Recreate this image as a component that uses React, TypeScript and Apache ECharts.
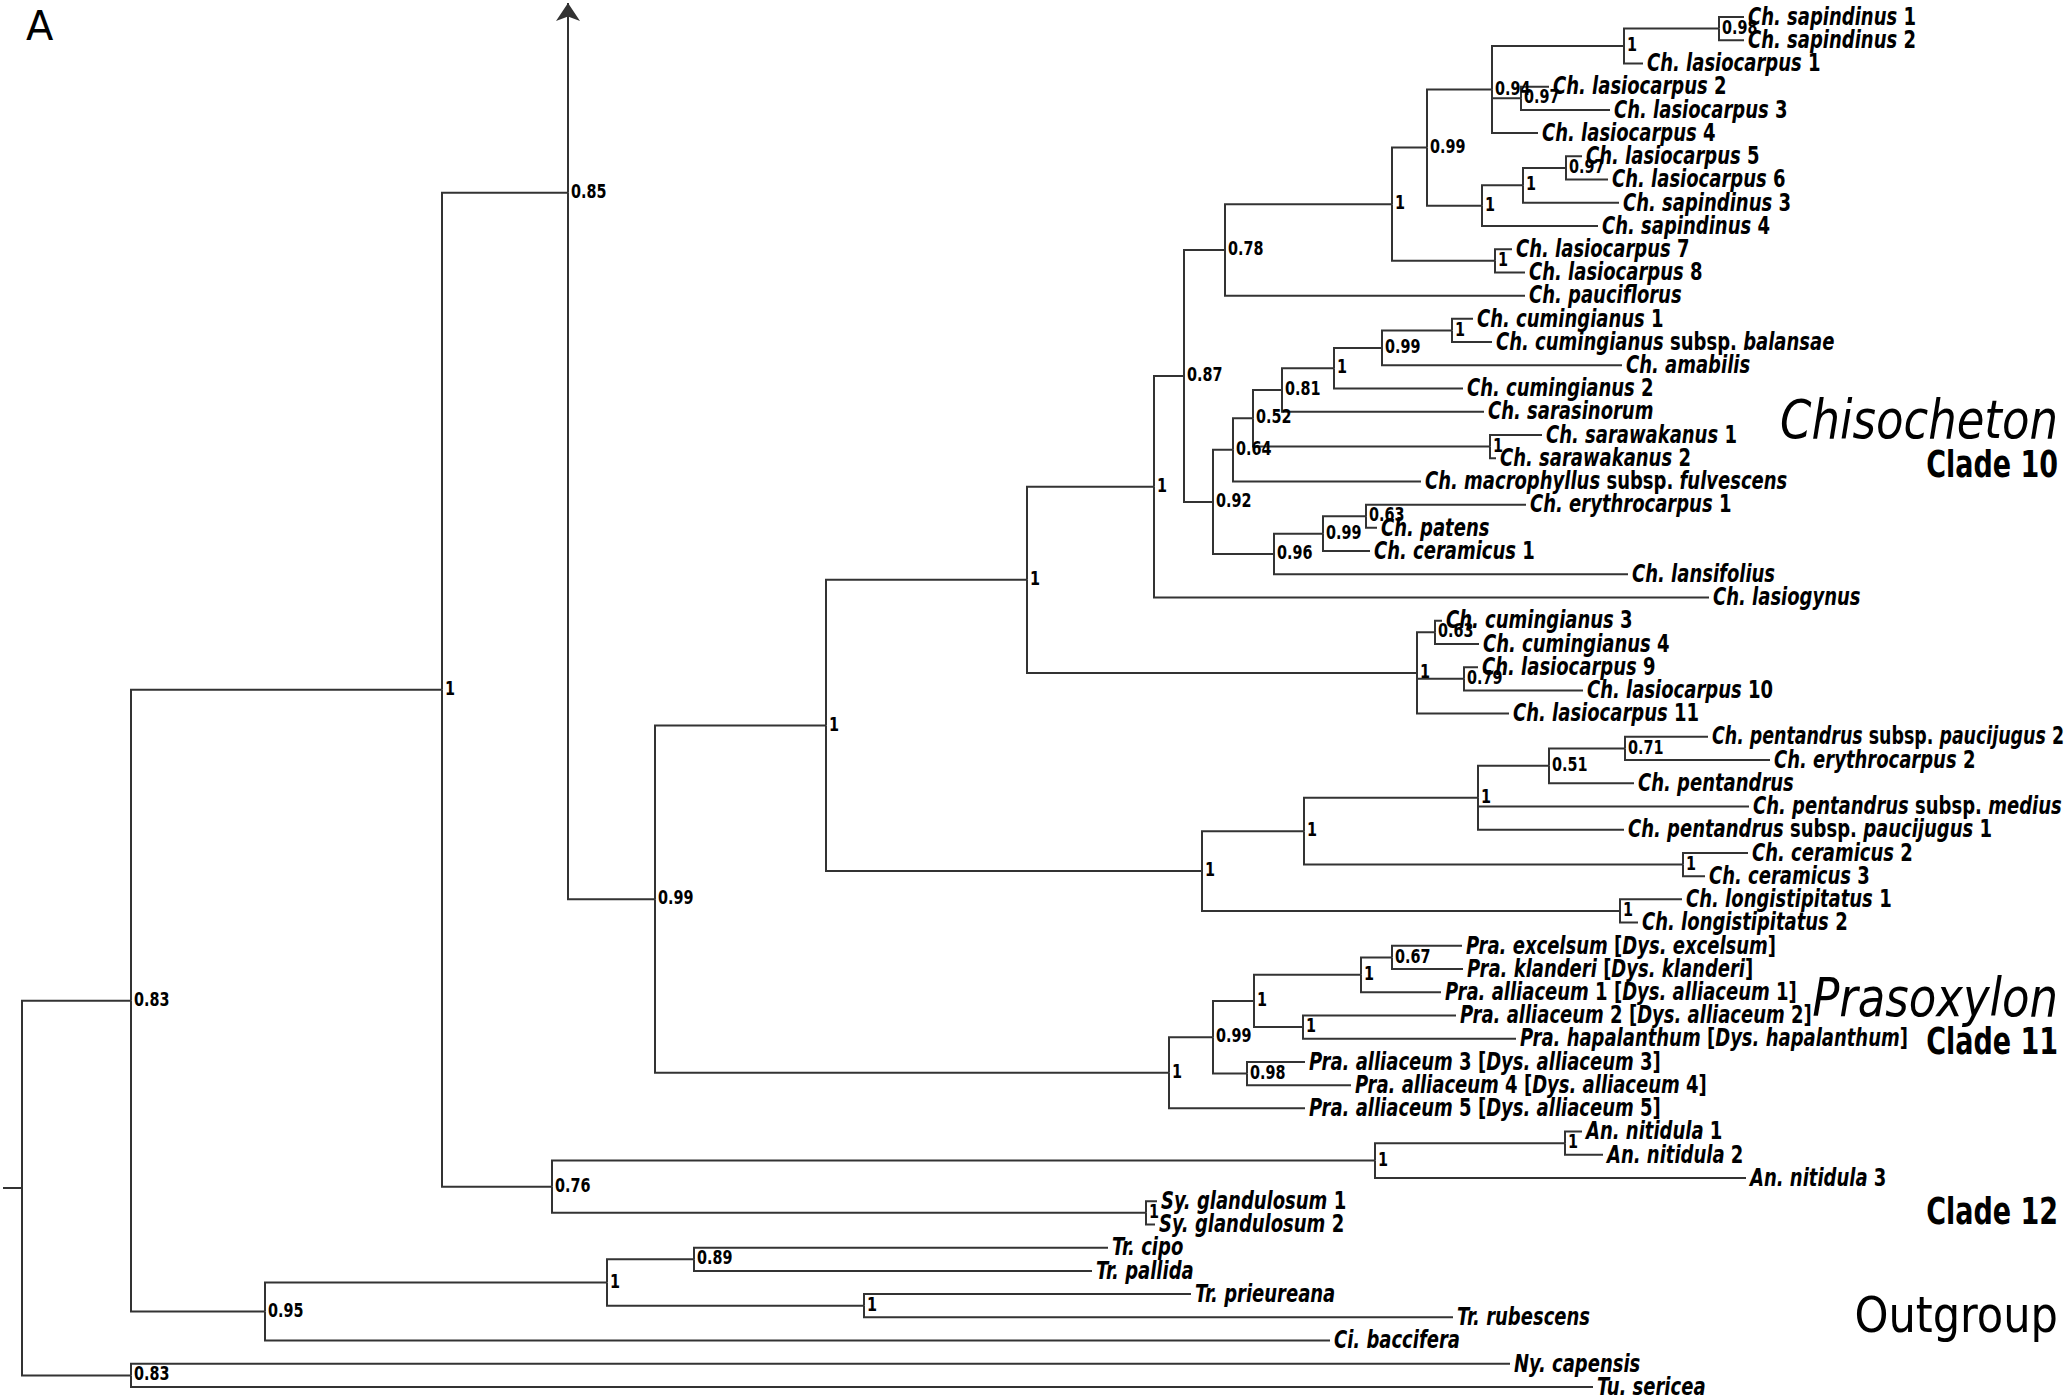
import React, { useEffect, useRef } from "react";
import * as echarts from "echarts";

// ---------- DATA ----------
// Leaves in top-to-bottom order (row index = position in this list)
const leafNames: string[] = [
  "Ch. sapindinus 1", "Ch. sapindinus 2", "Ch. lasiocarpus 1", "Ch. lasiocarpus 2",
  "Ch. lasiocarpus 3", "Ch. lasiocarpus 4", "Ch. lasiocarpus 5", "Ch. lasiocarpus 6",
  "Ch. sapindinus 3", "Ch. sapindinus 4", "Ch. lasiocarpus 7", "Ch. lasiocarpus 8",
  "Ch. pauciflorus", "Ch. cumingianus 1", "Ch. cumingianus subsp. balansae", "Ch. amabilis",
  "Ch. cumingianus 2", "Ch. sarasinorum", "Ch. sarawakanus 1", "Ch. sarawakanus 2",
  "Ch. macrophyllus subsp. fulvescens", "Ch. erythrocarpus 1", "Ch. patens", "Ch. ceramicus 1",
  "Ch. lansifolius", "Ch. lasiogynus", "Ch. cumingianus 3", "Ch. cumingianus 4",
  "Ch. lasiocarpus 9", "Ch. lasiocarpus 10", "Ch. lasiocarpus 11",
  "Ch. pentandrus subsp. paucijugus 2", "Ch. erythrocarpus 2", "Ch. pentandrus",
  "Ch. pentandrus subsp. medius", "Ch. pentandrus subsp. paucijugus 1",
  "Ch. ceramicus 2", "Ch. ceramicus 3", "Ch. longistipitatus 1", "Ch. longistipitatus 2",
  "Pra. excelsum [Dys. excelsum]", "Pra. klanderi [Dys. klanderi]",
  "Pra. alliaceum 1 [Dys. alliaceum 1]", "Pra. alliaceum 2 [Dys. alliaceum 2]",
  "Pra. hapalanthum [Dys. hapalanthum]", "Pra. alliaceum 3 [Dys. alliaceum 3]",
  "Pra. alliaceum 4 [Dys. alliaceum 4]", "Pra. alliaceum 5 [Dys. alliaceum 5]",
  "An. nitidula 1", "An. nitidula 2", "An. nitidula 3",
  "Sy. glandulosum 1", "Sy. glandulosum 2",
  "Tr. cipo", "Tr. pallida", "Tr. prieureana", "Tr. rubescens", "Ci. baccifera",
  "Ny. capensis", "Tu. sericea",
];

// Depth (horizontal position) of each leaf tip
const leafTipX: number[] = [
  1744, 1744, 1643, 1549, 1610, 1538, 1582, 1608, 1619, 1598, 1512, 1525,
  1525, 1473, 1492, 1622, 1463, 1484, 1542, 1496, 1421, 1526, 1377, 1370,
  1628, 1709, 1442, 1479, 1478, 1583, 1509, 1708, 1770, 1634, 1749, 1624,
  1748, 1705, 1682, 1638, 1462, 1463, 1441, 1456, 1516, 1305, 1351, 1305,
  1582, 1603, 1746, 1157, 1155, 1108, 1092, 1191, 1453, 1330, 1510, 1593,
];

// Internal nodes: id, depth, posterior support, children (number = leaf row, string = node id)
const nodeIds: string[] = [
  "root", "nA", "nB", "n1", "n85", "n99a", "nC", "nD", "nF", "n87", "n78", "nH",
  "n99b", "n94", "nJ", "n98a", "n97a", "nI", "nK", "n97b", "nL78", "n92", "n64",
  "n52", "n81", "nM", "n99c", "nCum", "nSar", "n96", "n99d", "n63a", "nG", "n63b",
  "n79", "nE", "nN", "nPent", "n51", "n71", "nCer", "nLon", "nPra", "n99e", "nP",
  "nQ", "n67", "nR", "n98b", "n76", "nAn", "nAn12", "nSy", "n95", "nTr", "n89", "nTr2",
];
const nodeX: number[] = [
  22, 131, 131, 442, 568, 655, 826, 1027, 1154, 1184, 1225, 1392,
  1427, 1492, 1624, 1719, 1521, 1482, 1523, 1566, 1495, 1213, 1233,
  1253, 1282, 1334, 1382, 1452, 1490, 1274, 1323, 1366, 1417, 1435,
  1464, 1202, 1304, 1478, 1549, 1625, 1683, 1620, 1169, 1213, 1254,
  1361, 1392, 1303, 1247, 552, 1375, 1565, 1146, 265, 607, 694, 864,
];
const nodeSupport: string[] = [
  "", "0.83", "0.83", "1", "0.85", "0.99", "1", "1", "1", "0.87", "0.78", "1",
  "0.99", "0.94", "1", "0.98", "0.97", "1", "1", "0.97", "1", "0.92", "0.64",
  "0.52", "0.81", "1", "0.99", "1", "1", "0.96", "0.99", "0.63", "1", "0.63",
  "0.79", "1", "1", "1", "0.51", "0.71", "1", "1", "1", "0.99", "1",
  "1", "0.67", "1", "0.98", "0.76", "1", "1", "1", "0.95", "1", "0.89", "1",
];
const nodeChildren: (number | string)[][] = [
  ["nA", "nB"], ["n1", "n95"], [58, 59], ["n85", "n76"], ["UP", "n99a"], ["nC", "nPra"],
  ["nD", "nE"], ["nF", "nG"], ["n87", 25], ["n78", "n92"], ["nH", 12], ["n99b", "nL78"],
  ["n94", "nI"], ["nJ", "n97a", 5], ["n98a", 2], [0, 1], [3, 4], ["nK", 9], ["n97b", 8],
  [6, 7], [10, 11], ["n64", "n96"], ["n52", 20], ["n81", "nSar"], ["nM", 17],
  ["n99c", 16], ["nCum", 15], [13, 14], [18, 19], ["n99d", 24], ["n63a", 23], [21, 22],
  ["n63b", "n79", 30], [26, 27], [28, 29], ["nN", "nLon"], ["nPent", "nCer"],
  ["n51", 34, 35], ["n71", 33], [31, 32], [36, 37], [38, 39], ["n99e", 47], ["nP", "n98b"],
  ["nQ", "nR"], ["n67", 42], [40, 41], [43, 44], [45, 46], ["nAn", "nSy"], ["nAn12", 50],
  [48, 49], [51, 52], ["nTr", 57], ["n89", "nTr2"], [53, 54], [55, 56],
];

// Branch leading off the top of the figure (arrow)
const upChildRow = -22.85;
const arrowTipRow = -0.6;
const rootStubX = 3;

// Clade annotations
const cladeTitles = ["Chisocheton", "Clade 10", "Prasoxylon", "Clade 11", "Clade 12", "Outgroup"];

// ---------- helpers ----------
const FONT = "'DejaVu Sans Condensed', 'Liberation Sans Narrow', 'DejaVu Sans', sans-serif";
const FONT_WIDE = "'DejaVu Sans', 'Noto Sans', sans-serif";
const LEAF_SIZE = 20;
const NODE_SIZE = 16;
const STRETCH = 1.22;
const RIGHT_LIMIT = 2064;

function richName(name: string): string {
  return name
    .split(" ")
    .map((t) => {
      let pre = "";
      let post = "";
      let tok = t;
      if (tok.startsWith("[")) {
        pre = "{u|[}";
        tok = tok.slice(1);
      }
      if (tok.endsWith("]")) {
        post = "{u|]}";
        tok = tok.slice(0, -1);
      }
      const upright = /^\d+$/.test(tok) || tok === "subsp.";
      return pre + "{" + (upright ? "u" : "i") + "|" + tok + "}" + post;
    })
    .join(" ");
}

let measureCtx: CanvasRenderingContext2D | null = null;
function measure(text: string, font: string): number {
  if (!measureCtx) measureCtx = document.createElement("canvas").getContext("2d");
  if (!measureCtx) return text.length * 10;
  measureCtx.font = font;
  return measureCtx.measureText(text).width;
}

export default function App() {
  const ref = useRef<HTMLDivElement>(null);

  useEffect(() => {
    if (!ref.current) return;
    const chart = echarts.init(ref.current, undefined, { renderer: "svg" });

    const idx: Record<string, number> = {};
    nodeIds.forEach((id, i) => (idx[id] = i));
    const rowCache: Record<string, number> = {};
    const rowOf = (c: number | string): number => {
      if (typeof c === "number") return c;
      if (c === "UP") return upChildRow;
      if (rowCache[c] !== undefined) return rowCache[c];
      const ch = nodeChildren[idx[c]];
      const r = (rowOf(ch[0]) + rowOf(ch[ch.length - 1])) / 2;
      rowCache[c] = r;
      return r;
    };
    const xOf = (c: number | string): number =>
      typeof c === "number" ? leafTipX[c] : nodeX[idx[c as string]];

    const branches: any[] = [];
    const arrow: any[] = [];
    nodeIds.forEach((id, i) => {
      const nx = nodeX[i];
      const ny = rowOf(id);
      nodeChildren[i].forEach((c) => {
        if (c === "UP") {
          arrow.push({ coords: [[nx, ny], [nx, arrowTipRow]] });
          return;
        }
        const cy = rowOf(c);
        branches.push({ coords: [[nx, ny], [nx, cy], [xOf(c), cy]] });
      });
    });
    const rootRow = rowOf("root");
    branches.push({ coords: [[rootStubX, rootRow], [nodeX[0], rootRow]] });

    const supportIdx = nodeIds.map((_, i) => i).filter((i) => nodeSupport[i] !== "");
    const supportData = supportIdx.map((i) => [nodeX[i], rowOf(nodeIds[i])]);
    const leafData = leafTipX.map((x, i) => [x, i]);

    const leafFont = "italic bold " + LEAF_SIZE + "px " + FONT;
    const leafRich = {
      i: { fontFamily: FONT, fontSize: LEAF_SIZE, fontWeight: "bold", fontStyle: "italic", fill: "#000" },
      u: { fontFamily: FONT, fontSize: LEAF_SIZE, fontWeight: "bold", fontStyle: "normal", fill: "#000" },
    };

    const lineStyle = { color: "#333", width: 2, opacity: 1 };

    chart.setOption({
      animation: false,
      backgroundColor: "#fff",
      grid: { left: 0, right: 0, top: 17, bottom: 12 },
      xAxis: { type: "value", min: 0, max: 2068, show: false },
      yAxis: { type: "value", min: 0, max: 59, inverse: true, show: false },
      series: [
        {
          type: "lines",
          coordinateSystem: "cartesian2d",
          polyline: true,
          silent: true,
          clip: false,
          lineStyle,
          data: branches,
        },
        {
          type: "lines",
          coordinateSystem: "cartesian2d",
          polyline: false,
          silent: true,
          clip: false,
          symbol: ["none", "arrow"],
          symbolSize: 18,
          lineStyle,
          itemStyle: { color: "#333" },
          data: arrow,
        },
        {
          type: "custom",
          coordinateSystem: "cartesian2d",
          silent: true,
          clip: false,
          data: leafData,
          renderItem: (params: any, api: any) => {
            const i = params.dataIndex;
            const p = api.coord([api.value(0), api.value(1)]);
            const x0 = p[0] + 4;
            const w = measure(leafNames[i], leafFont);
            const sx = Math.min(1, (RIGHT_LIMIT - x0) / w);
            return {
              type: "text",
              x: x0,
              y: p[1] - 1,
              scaleX: sx,
              scaleY: STRETCH,
              silent: true,
              style: {
                text: richName(leafNames[i]),
                rich: leafRich,
                font: leafFont,
                fill: "#000",
                align: "left",
                verticalAlign: "middle",
              },
            };
          },
        },
        {
          type: "custom",
          coordinateSystem: "cartesian2d",
          silent: true,
          clip: false,
          data: supportData,
          renderItem: (params: any, api: any) => {
            const i = supportIdx[params.dataIndex];
            const p = api.coord([api.value(0), api.value(1)]);
            return {
              type: "text",
              x: p[0] + 3,
              y: p[1] - 2,
              scaleY: STRETCH,
              silent: true,
              style: {
                text: nodeSupport[i],
                font: "normal bold " + NODE_SIZE + "px " + FONT,
                fill: "#000",
                align: "left",
                verticalAlign: "middle",
              },
            };
          },
        },
      ],
      graphic: [
        {
          type: "text",
          x: 26,
          y: 26,
          style: { text: "A", font: "normal 40px " + FONT_WIDE, fill: "#000", verticalAlign: "middle" },
        },
        {
          type: "text",
          x: 2058,
          y: 420,
          scaleY: 1.05,
          style: { text: cladeTitles[0], font: "italic normal 50px " + FONT, fill: "#000", align: "right", verticalAlign: "middle" },
        },
        {
          type: "text",
          x: 2058,
          y: 464,
          scaleY: STRETCH,
          style: { text: cladeTitles[1], font: "normal bold 30px " + FONT, fill: "#000", align: "right", verticalAlign: "middle" },
        },
        {
          type: "text",
          x: 2058,
          y: 998,
          scaleY: 1.05,
          style: { text: cladeTitles[2], font: "italic normal 50px " + FONT, fill: "#000", align: "right", verticalAlign: "middle" },
        },
        {
          type: "text",
          x: 2058,
          y: 1041,
          scaleY: STRETCH,
          style: { text: cladeTitles[3], font: "normal bold 30px " + FONT, fill: "#000", align: "right", verticalAlign: "middle" },
        },
        {
          type: "text",
          x: 2058,
          y: 1211,
          scaleY: STRETCH,
          style: { text: cladeTitles[4], font: "normal bold 30px " + FONT, fill: "#000", align: "right", verticalAlign: "middle" },
        },
        {
          type: "text",
          x: 2058,
          y: 1315,
          scaleY: 1.05,
          style: { text: cladeTitles[5], font: "normal normal 48px " + FONT, fill: "#000", align: "right", verticalAlign: "middle" },
        },
      ],
    });

    return () => chart.dispose();
  }, []);

  return (
    <div
      ref={ref}
      style={{ position: "absolute", left: 0, top: 0, width: 2068, height: 1399, background: "#fff" }}
    />
  );
}
